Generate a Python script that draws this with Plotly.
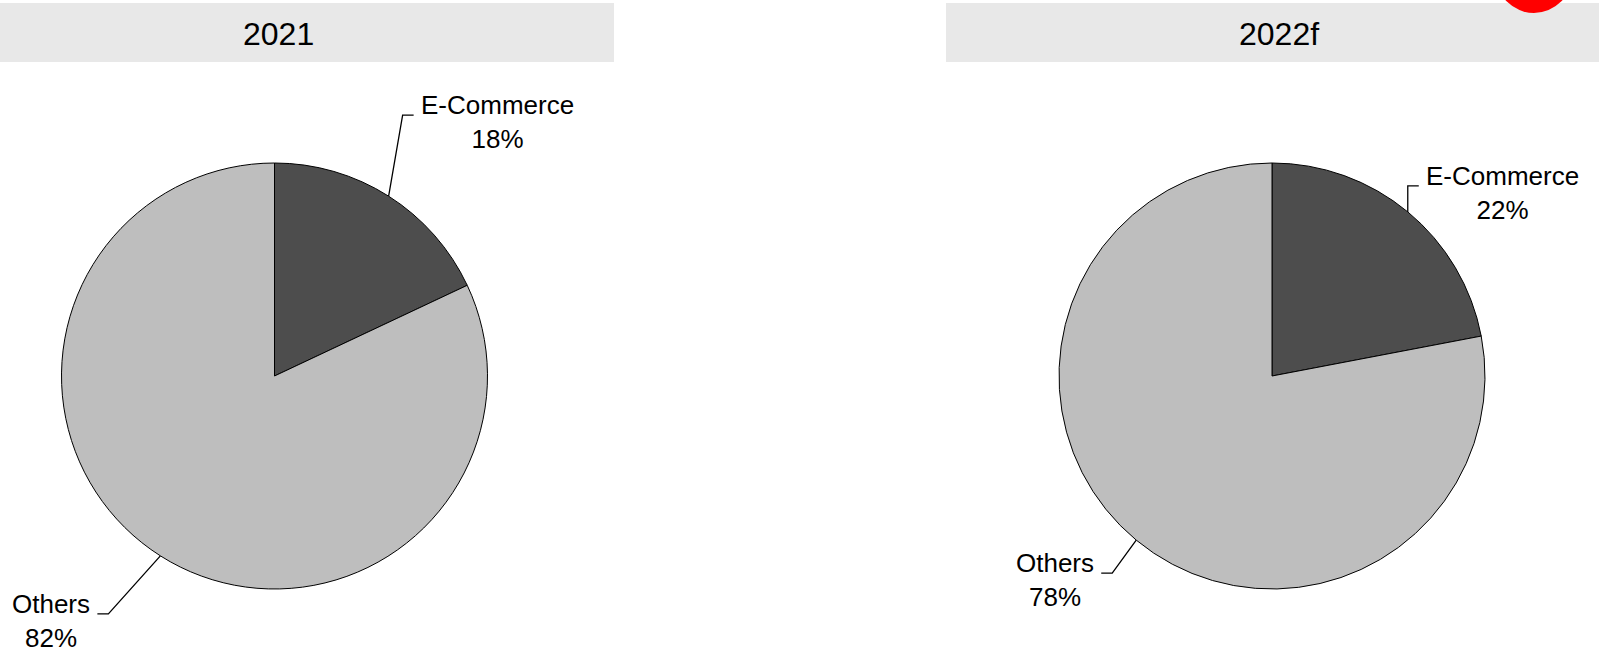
import math
import plotly.graph_objects as go

# ---- data ----
years = ["2021", "2022f"]
segments = ["E-Commerce", "Others"]
ecommerce_share = [18, 22]
others_share = [82, 78]
slice_colors = ["#4d4d4d", "#bebebe"]

# ---- layout geometry (pixels) ----
W, H = 1599, 648
R = 213
centers = [(274.5, 376), (1272, 376)]
strips = [(0, 614), (946, 1599)]
strip_y = (3, 62)
title_x = [278.5, 1278.5]
title_y = 34.5
# leader-line elbow offsets from slice-edge point (dx, dy) for each year, per segment
elbow_offsets = {
    "2021": {"E-Commerce": (14, -81), "Others": (-52, 58)},
    "2022f": {"E-Commerce": (0, -26), "Others": (-24, 33)},
}
seg_len = 11
text_gap = 5
label_font = 26


def px(x):
    return x / W


def py(y):
    return 1 - y / H


fig = go.Figure()
shapes = []
annotations = []

for i, yr in enumerate(years):
    vals = [ecommerce_share[i], others_share[i]]
    cx, cy = centers[i]
    fig.add_trace(go.Pie(
        labels=segments,
        values=vals,
        sort=False,
        direction="clockwise",
        rotation=0,
        textinfo="none",
        hoverinfo="label+percent",
        marker=dict(colors=slice_colors, line=dict(color="black", width=1)),
        domain=dict(x=[px(cx - R), px(cx + R)], y=[py(cy + R), py(cy - R)]),
        showlegend=False,
    ))

    # strip header
    x0, x1 = strips[i]
    shapes.append(dict(type="rect", xref="paper", yref="paper",
                       x0=px(x0), x1=px(x1), y0=py(strip_y[1]), y1=py(strip_y[0]),
                       fillcolor="#e8e8e8", line=dict(width=0), layer="below"))
    annotations.append(dict(text=yr, x=px(title_x[i]), y=py(title_y), xref="paper", yref="paper",
                            showarrow=False, xanchor="center", yanchor="middle",
                            font=dict(family="Liberation Sans, Arial", size=32, color="black")))

    # labels with leader lines
    total = sum(vals)
    cum = 0
    for seg, v in zip(segments, vals):
        mid = (cum + v / 2) / total * 2 * math.pi
        cum += v
        ex = cx + R * math.sin(mid)
        ey = cy - R * math.cos(mid)
        dx, dy = elbow_offsets[yr][seg]
        bx, by = ex + dx, ey + dy
        side = 1 if math.sin(mid) >= 0 else -1
        hx = bx + side * seg_len
        shapes.append(dict(type="path", xref="paper", yref="paper",
                           path=f"M {px(ex)},{py(ey)} L {px(bx)},{py(by)} L {px(hx)},{py(by)}",
                           line=dict(color="black", width=1.3)))
        pct = round(v / total * 100)
        annotations.append(dict(text=f"{seg}<br>{pct}%", x=px(hx + side * text_gap), y=py(by + 7),
                                xref="paper", yref="paper", showarrow=False,
                                xanchor="left" if side > 0 else "right", yanchor="middle",
                                align="center",
                                font=dict(family="Liberation Sans, Arial", size=label_font, color="black")))

# red badge partially visible at top right
shapes.append(dict(type="circle", xref="paper", yref="paper",
                   x0=px(1496), x1=px(1572), y0=py(13), y1=py(-63),
                   fillcolor="#ff0000", line=dict(width=0), layer="above"))

fig.update_layout(
    width=W, height=H,
    margin=dict(l=0, r=0, t=0, b=0),
    paper_bgcolor="white", plot_bgcolor="white",
    shapes=shapes, annotations=annotations,
    showlegend=False,
)

fig.write_html("out.html", config={"displayModeBar": False},
               post_script="document.body.style.margin='0px';")
